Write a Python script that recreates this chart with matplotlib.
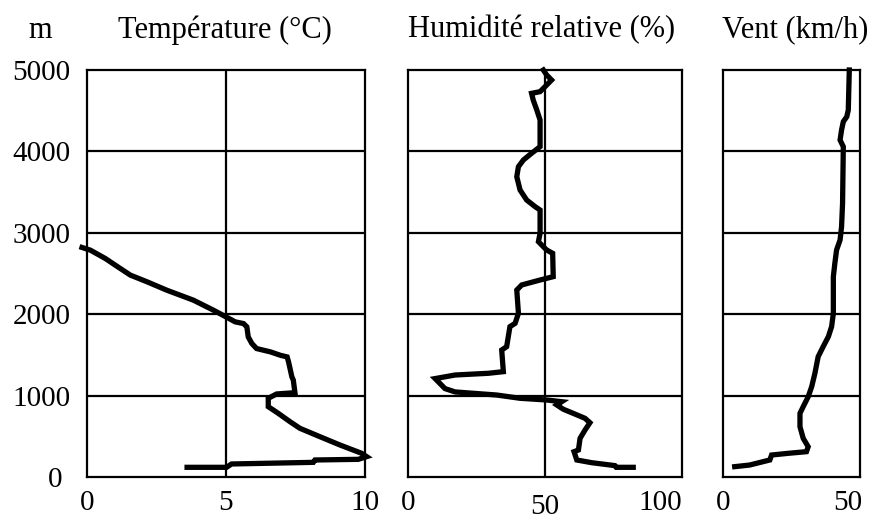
import matplotlib
matplotlib.use("Agg")
import matplotlib.pyplot as plt

plt.rcParams['font.family'] = ['Liberation Serif', 'DejaVu Serif']

# Temperature profile (altitude m, °C)
temp_alt = [119, 119, 160, 180, 209, 217, 250, 291, 393, 495, 598, 680, 782, 864, 967,
            1020, 1036, 1192, 1230, 1414, 1475, 1496, 1537, 1578, 1640, 1721, 1844, 1885,
            1906, 1967, 2049, 2172, 2295, 2398, 2480, 2561, 2684, 2787, 2820]
temp_val = [3.6, 5.02, 5.2, 8.14, 8.2, 9.76, 10.06, 9.88, 9.1, 8.38, 7.66, 7.3, 6.88, 6.52, 6.52,
            6.82, 7.48, 7.42, 7.37, 7.25, 7.2, 6.95, 6.6, 6.1, 5.93, 5.8, 5.75, 5.63,
            5.33, 5.0, 4.55, 3.83, 2.87, 2.16, 1.56, 1.2, 0.66, 0.12, -0.18]

# Relative humidity profile (altitude m, %)
hum_alt = [119, 119, 140, 176, 209, 311, 332, 475, 577, 667, 721, 782, 832, 885, 925, 946,
           967, 1007, 1045, 1086, 1209, 1253, 1274, 1294, 1560, 1601, 1847, 1888, 2011, 2297,
           2359, 2420, 2461, 2748, 2789, 2829, 2891, 2994, 3280, 3321, 3403, 3526, 3689, 3812,
           3894, 3977, 4058, 4386, 4509, 4631, 4713, 4734, 4795, 4877, 4939, 5000]
hum_val = [82.2, 76.0, 75.5, 67.0, 61.6, 60.6, 62.2, 62.8, 64.6, 66.4, 64.6, 60.3, 56.7, 54.3,
           56.1, 50.6, 40.9, 32.4, 17.2, 13.5, 9.9, 17.2, 29.3, 34.8, 34.2, 36.0, 37.2, 39.1,
           40.3, 39.7, 41.5, 48.2, 53.0, 52.8, 50.6, 49.4, 47.6, 48.2, 48.2, 46.4, 43.3, 40.9,
           39.7, 40.3, 42.1, 45.1, 48.2, 48.2, 47.0, 45.7, 45.1, 48.2, 50.0, 52.4, 50.6, 49.4]

# Wind speed profile (altitude m, km/h)
wind_alt = [127, 147, 209, 270, 291, 311, 372, 475, 618, 782, 864, 986, 1109, 1274, 1478,
            1601, 1724, 1847, 2011, 2461, 2625, 2789, 2912, 3075, 3362, 4058, 4140, 4263,
            4365, 4427, 4509, 5000]
wind_val = [4.7, 10.7, 18.8, 19.5, 26.2, 33.5, 34.2, 32.2, 30.9, 30.9, 32.2, 34.2, 35.6, 36.9,
            38.2, 40.2, 42.3, 43.6, 44.3, 44.3, 44.9, 45.6, 47.0, 47.6, 48.0, 48.3, 47.0, 47.6,
            48.3, 49.7, 50.3, 50.7]

titles = ["Température (°C)", "Humidité relative (%)", "Vent (km/h)"]
alt_ticks = [0, 1000, 2000, 3000, 4000, 5000]
temp_ticks = [0, 5, 10]
hum_ticks = [0, 50, 100]
wind_ticks = [0, 50]

W, H = 870, 518
fig = plt.figure(figsize=(W / 100, H / 100), dpi=100)

def box(x0, x1, y0=70, y1=477):
    return [x0 / W, 1 - y1 / H, (x1 - x0) / W, (y1 - y0) / H]

ax1 = fig.add_axes(box(87, 365))
ax2 = fig.add_axes(box(408, 682))
ax3 = fig.add_axes(box(723, 860))

fs = 21
fs_title = 22
lw_frame = 1.6
lw_line = 3.8

specs = [
    (ax1, temp_val, temp_alt, (0, 10), temp_ticks, [5]),
    (ax2, hum_val, hum_alt, (0, 100), hum_ticks, [50]),
    (ax3, wind_val, wind_alt, (0, 55), wind_ticks, []),
]

for ax, xv, yv, xlim, xt, vgrid in specs:
    ax.set_xlim(*xlim)
    ax.set_ylim(0, 5000)
    for y in alt_ticks[1:-1]:
        ax.axhline(y, color='black', lw=lw_frame, zorder=1)
    for x in vgrid:
        ax.axvline(x, color='black', lw=lw_frame, zorder=1)
    ax.plot(xv, yv, color='black', lw=lw_line, zorder=3, clip_on=False,
            solid_joinstyle='miter')
    for s in ax.spines.values():
        s.set_linewidth(lw_frame)
    ax.set_xticks(xt)
    ax.set_xticklabels([str(t) for t in xt])
    ax.tick_params(axis='x', length=0, pad=9, labelsize=fs)
    ax.set_yticks(alt_ticks)
    ax.tick_params(axis='y', length=0)

ax1.set_yticklabels([str(t) for t in alt_ticks])
ax1.tick_params(axis='y', pad=12, labelsize=fs)
ax1.yaxis.get_major_ticks()[0].set_pad(18)
for lab in ax1.get_yticklabels():
    lab.set_verticalalignment('center_baseline')
ax2.set_yticklabels([])
ax3.set_yticklabels([])

# Humidity: "50" slightly lower, "100" right-aligned
ax2.xaxis.get_major_ticks()[1].set_pad(12)
ax2.get_xticklabels()[2].set_horizontalalignment('right')

# Titles
fig.text(40 / W, 1 - 30 / H, "m", fontsize=fs_title, ha='center', va='center')
fig.text(225 / W, 1 - 30 / H, titles[0], fontsize=fs_title, ha='center', va='center')
fig.text(542 / W, 1 - 30 / H, titles[1], fontsize=fs_title, ha='center', va='center')
fig.text(795 / W, 1 - 30 / H, titles[2], fontsize=fs_title, ha='center', va='center')

fig.savefig("out.png", dpi=100, facecolor='white')
